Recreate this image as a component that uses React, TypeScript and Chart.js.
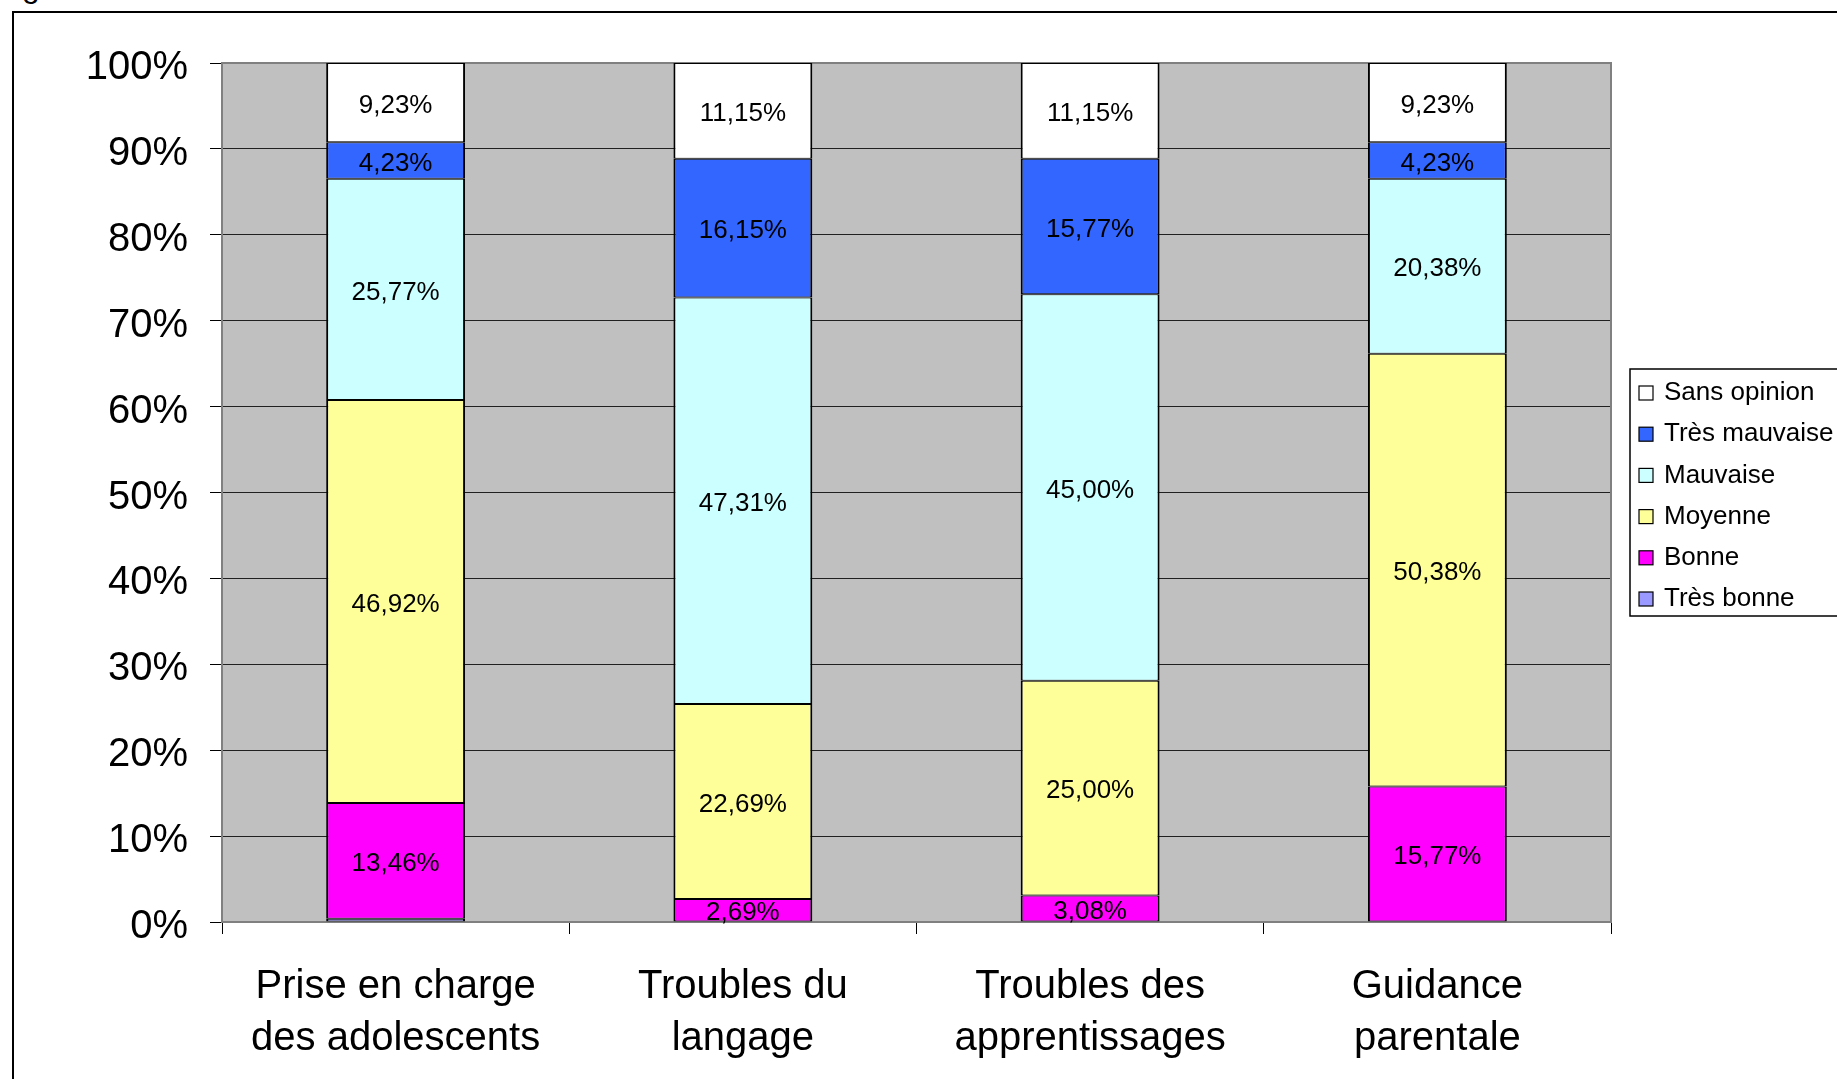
import React, { useEffect, useRef } from 'react';
import { Chart, registerables } from 'chart.js';

Chart.register(...registerables);

const categories: string[][] = [
  ['Prise en charge', 'des adolescents'],
  ['Troubles du', 'langage'],
  ['Troubles des', 'apprentissages'],
  ['Guidance', 'parentale'],
];

const seriesNames = ['Très bonne', 'Bonne', 'Moyenne', 'Mauvaise', 'Très mauvaise', 'Sans opinion'];
const seriesColors = ['#9999FF', '#FF00FF', '#FFFF99', '#CCFFFF', '#3366FF', '#FFFFFF'];

const tresBonne = [0.38, 0, 0, 0];
const bonne = [13.46, 2.69, 3.08, 15.77];
const moyenne = [46.92, 22.69, 25.0, 50.38];
const mauvaise = [25.77, 47.31, 45.0, 20.38];
const tresMauvaise = [4.23, 16.15, 15.77, 4.23];
const sansOpinion = [9.23, 11.15, 11.15, 9.23];

const yMin = 0;
const yMax = 100;
const yStep = 10;

const W = 1837;
const H = 1079;
const PLOT_LEFT = 222;
const PLOT_TOP = 63;
const PLOT_RIGHT = 1611;
const PLOT_BOTTOM = 922;
const FONT = 'Arial, "Liberation Sans", sans-serif';

const fmt = (v: number) => v.toFixed(2).replace('.', ',') + '%';

const plotBgPlugin = {
  id: 'plotBg',
  beforeDraw(chart: any) {
    const { ctx, chartArea: a } = chart;
    ctx.save();
    ctx.fillStyle = '#C0C0C0';
    ctx.fillRect(a.left, a.top, a.right - a.left, a.bottom - a.top);
    ctx.restore();
  },
  beforeDatasetsDraw(chart: any) {
    const { ctx, chartArea: a } = chart;
    ctx.save();
    ctx.strokeStyle = '#808080';
    ctx.lineWidth = 2;
    ctx.strokeRect(a.left, a.top, a.right - a.left, a.bottom - a.top);
    ctx.restore();
  },
};

const valueLabelPlugin = {
  id: 'valueLabels',
  afterDatasetsDraw(chart: any) {
    const { ctx } = chart;
    ctx.save();
    ctx.font = `26px ${FONT}`;
    ctx.fillStyle = '#000';
    ctx.textAlign = 'center';
    ctx.textBaseline = 'middle';
    chart.data.datasets.forEach((ds: any, di: number) => {
      const meta = chart.getDatasetMeta(di);
      meta.data.forEach((el: any, i: number) => {
        const v = ds.data[i];
        if (v < 1) return;
        const { x, y, base } = el.getProps(['x', 'y', 'base'], true);
        ctx.fillText(fmt(v), x, (y + base) / 2 + 3);
      });
    });
    ctx.restore();
  },
};

const legendPlugin = {
  id: 'customLegend',
  afterDraw(chart: any) {
    const { ctx } = chart;
    const boxX = 1630;
    const boxY = 369;
    const boxH = 247;
    ctx.save();
    ctx.strokeStyle = '#000';
    ctx.lineWidth = 1.5;
    ctx.fillStyle = '#FFF';
    ctx.fillRect(boxX, boxY, W - boxX + 20, boxH);
    ctx.strokeRect(boxX, boxY, W - boxX + 20, boxH);
    const items = chart.data.datasets.map((d: any) => ({ label: d.label, color: d.backgroundColor })).reverse();
    ctx.font = `26px ${FONT}`;
    ctx.textBaseline = 'middle';
    ctx.textAlign = 'left';
    items.forEach((it: any, i: number) => {
      const cy = 393 + i * 41.2;
      ctx.fillStyle = it.color;
      ctx.fillRect(1639, cy - 7, 14, 14);
      ctx.lineWidth = 1.2;
      ctx.strokeStyle = '#000';
      ctx.strokeRect(1639, cy - 7, 14, 14);
      ctx.fillStyle = '#000';
      ctx.fillText(it.label, 1664, cy);
    });
    ctx.restore();
  },
};

export default function App() {
  const ref = useRef<HTMLCanvasElement>(null);

  useEffect(() => {
    if (!ref.current) return;
    const values = [tresBonne, bonne, moyenne, mauvaise, tresMauvaise, sansOpinion];
    const chart = new Chart(ref.current, {
      type: 'bar',
      data: {
        labels: categories,
        datasets: seriesNames.map((name, i) => ({
          label: name,
          data: values[i],
          backgroundColor: seriesColors[i],
          borderColor: '#000000',
          borderWidth: { top: 1, bottom: 1, left: 2, right: 2 },
          borderSkipped: false,
          barPercentage: 0.4,
          categoryPercentage: 1,
        })),
      },
      options: {
        responsive: false,
        animation: false,
        devicePixelRatio: 1,
        layout: {
          padding: { top: PLOT_TOP, right: W - PLOT_RIGHT, left: 0, bottom: 0 },
        },
        plugins: {
          legend: { display: false },
          tooltip: { enabled: false },
          title: { display: false },
        },
        scales: {
          x: {
            stacked: true,
            offset: true,
            grid: {
              offset: true,
              drawOnChartArea: false,
              drawTicks: true,
              tickLength: 12,
              tickColor: '#000',
              color: '#000',
            },
            border: { display: true, color: '#000', width: 2 },
            ticks: {
              color: '#000',
              font: { family: FONT, size: 40, lineHeight: 1.3 },
              padding: 27,
              maxRotation: 0,
              autoSkip: false,
            },
            afterFit: (s: any) => {
              s.height = H - PLOT_BOTTOM;
            },
          },
          y: {
            stacked: true,
            min: yMin,
            max: yMax,
            grid: {
              color: (c: any) => (c.tick && c.tick.value === yMax ? '#808080' : '#202020'),
              lineWidth: 1,
              tickLength: 12,
              tickColor: '#000',
              drawTicks: true,
            },
            border: { display: true, color: '#808080', width: 2 },
            ticks: {
              stepSize: yStep,
              color: '#000',
              font: { family: FONT, size: 40 },
              padding: 22,
              labelOffset: 5,
              callback: (v: any) => v + '%',
            },
            afterFit: (s: any) => {
              s.width = PLOT_LEFT;
            },
          },
        },
      },
      plugins: [plotBgPlugin, valueLabelPlugin, legendPlugin],
    });
    return () => chart.destroy();
  }, []);

  return (
    <div
      style={{
        position: 'fixed',
        left: 0,
        top: 0,
        width: W,
        height: H,
        overflow: 'hidden',
        background: '#fff',
      }}
    >
      <div
        style={{
          position: 'absolute',
          left: 22,
          top: -30,
          fontFamily: FONT,
          fontSize: 32,
          lineHeight: 1,
          color: '#000',
        }}
      >
        g
      </div>
      <div
        style={{
          position: 'absolute',
          left: 12,
          top: 11,
          width: 2000,
          height: 2000,
          border: '2px solid #000',
        }}
      />
      <canvas
        ref={ref}
        width={W}
        height={H}
        style={{ position: 'absolute', left: 0, top: 0, width: W, height: H }}
      />
    </div>
  );
}
